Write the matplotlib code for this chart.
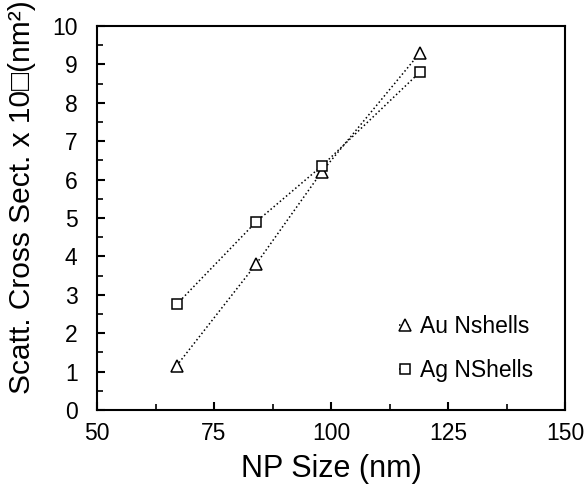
import matplotlib
matplotlib.use("Agg")
import matplotlib.pyplot as plt
from matplotlib.ticker import MultipleLocator

plt.rcParams['font.family'] = ['Liberation Sans', 'DejaVu Sans']

size_au = [67, 84, 98, 119]
cross_au = [1.15, 3.8, 6.2, 9.3]
size_ag = [67, 84, 98, 119]
cross_ag = [2.75, 4.9, 6.35, 8.8]

fig = plt.figure(figsize=(5.87, 4.91), dpi=100)
ax = fig.add_axes([97 / 587, 1 - 410 / 491, 468 / 587, 384 / 491])

ax.plot(size_au, cross_au, linestyle=':', color='black', linewidth=1.1,
        marker='^', markersize=8.5, markerfacecolor='white',
        markeredgecolor='black', markeredgewidth=1.1, label='Au Nshells')
ax.plot(size_ag, cross_ag, linestyle=':', color='black', linewidth=1.1,
        marker='s', markersize=7, markerfacecolor='white',
        markeredgecolor='black', markeredgewidth=1.1, label='Ag NShells')

ax.set_xlim(50, 150)
ax.set_ylim(0, 10)
ax.xaxis.set_major_locator(MultipleLocator(25))
ax.xaxis.set_minor_locator(MultipleLocator(12.5))
ax.yaxis.set_major_locator(MultipleLocator(1))
ax.yaxis.set_minor_locator(MultipleLocator(0.5))
ax.tick_params(which='major', direction='in', length=6, width=1.5, labelsize=16.5)
ax.tick_params(axis='x', which='major', pad=9)
ax.tick_params(axis='y', which='major', pad=14)
ax.tick_params(which='minor', direction='in', length=4, width=1.2)
for s in ax.spines.values():
    s.set_linewidth(1.5)

ax.set_xlabel('NP Size (nm)', fontsize=22, labelpad=6)
ax.set_ylabel('Scatt. Cross Sect. x 10\u25a1(nm\u00b2)', fontsize=21.5)
ax.yaxis.set_label_coords(-0.13, 0.555)

ax.legend(loc='lower right', bbox_to_anchor=(0.975, 0.02), frameon=False,
          fontsize=16.5, handlelength=0.5, handletextpad=0.4, labelspacing=0.9,
          markerscale=1.0)

fig.savefig('out.png', dpi=100)
